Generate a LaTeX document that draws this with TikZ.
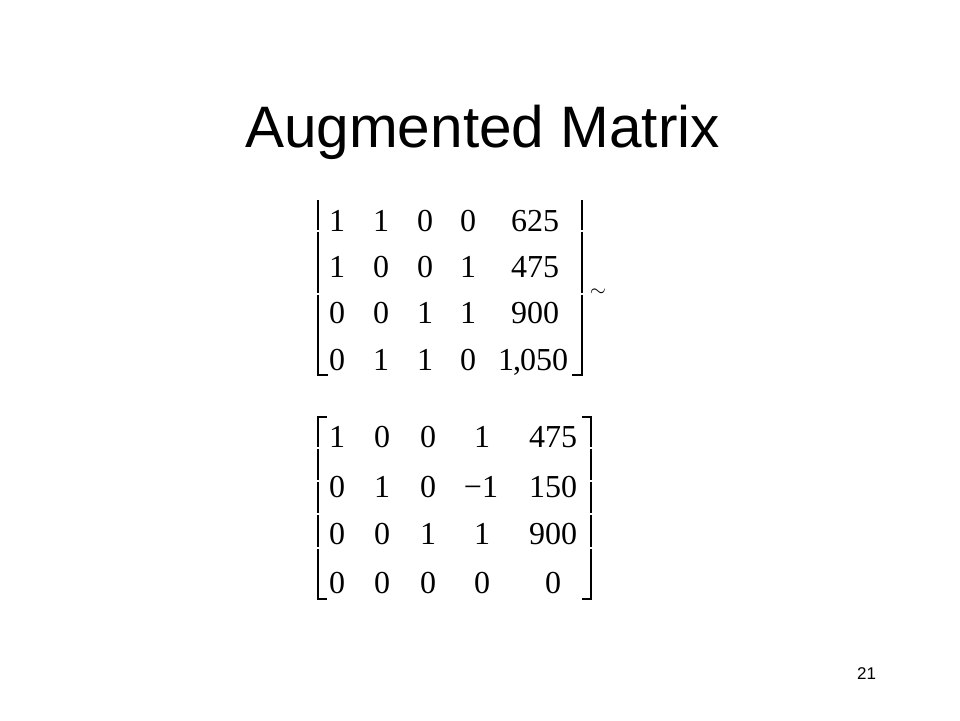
\documentclass[tikz,border=0pt]{standalone}
\usepackage{fontspec}
\setmainfont{Liberation Serif}
\newfontfamily\arialf{Liberation Sans}
\begin{document}
\begin{tikzpicture}[x=1pt,y=-1pt,
  title/.style={font=\arialf\fontsize{58.5}{60}\selectfont, anchor=base, inner sep=0pt},
  pagenum/.style={font=\arialf\fontsize{17}{18}\selectfont, anchor=base, inner sep=0pt},
  entry/.style={font=\fontsize{32}{32}\selectfont, anchor=base, inner sep=0pt},
  brk/.style={line width=1.4pt, line cap=butt}]
\useasboundingbox[fill=white] (0,0) rectangle (960,720);
\node[title] (title) at (482.5,147) {Augmented Matrix};
\node[pagenum] (page) at (866.5,679) {21};

% first matrix
\node[entry] (a11) at (337,231) {1};
\node[entry] (a12) at (381,231) {1};
\node[entry] (a13) at (425,231) {0};
\node[entry] (a14) at (468,231) {0};
\node[entry] (a15) at (535,231) {625};
\node[entry] (a21) at (337,277) {1};
\node[entry] (a22) at (381,277) {0};
\node[entry] (a23) at (425,277) {0};
\node[entry] (a24) at (468,277) {1};
\node[entry] (a25) at (535,277) {475};
\node[entry] (a31) at (337,323) {0};
\node[entry] (a32) at (381,323) {0};
\node[entry] (a33) at (425,323) {1};
\node[entry] (a34) at (468,323) {1};
\node[entry] (a35) at (535,323) {900};
\node[entry] (a41) at (337,370) {0};
\node[entry] (a42) at (381,370) {1};
\node[entry] (a43) at (425,370) {1};
\node[entry] (a44) at (468,370) {0};
\node[entry] (a45) at (533,370) {1\kern-1pt,\kern-1pt050};
\draw[brk] (318,200) -- (318,230);
\draw[brk] (318,231.5) -- (318,293);
\draw[brk] (318,294.5) -- (318,375) -- (328,375);
\draw[brk] (582,200) -- (582,230);
\draw[brk] (582,231.5) -- (582,293);
\draw[brk] (582,294.5) -- (582,375) -- (572,375);
\node[inner sep=0pt, font=\fontsize{22}{22}\selectfont] (tilde) at (598,293) {$\sim$};

% second matrix
\node[entry] (b11) at (337,447) {1};
\node[entry] (b12) at (382,447) {0};
\node[entry] (b13) at (428,447) {0};
\node[entry] (b14) at (482,447) {1};
\node[entry] (b15) at (553,447) {475};
\node[entry] (b21) at (337,497) {0};
\node[entry] (b22) at (382,497) {1};
\node[entry] (b23) at (428,497) {0};
\node[entry] (b24) at (481,497) {−1};
\node[entry] (b25) at (553,497) {150};
\node[entry] (b31) at (337,544) {0};
\node[entry] (b32) at (382,544) {0};
\node[entry] (b33) at (428,544) {1};
\node[entry] (b34) at (482,544) {1};
\node[entry] (b35) at (553,544) {900};
\node[entry] (b41) at (337,593) {0};
\node[entry] (b42) at (382,593) {0};
\node[entry] (b43) at (428,593) {0};
\node[entry] (b44) at (482,593) {0};
\node[entry] (b45) at (553,593) {0};
\draw[brk] (327,417) -- (318,417) -- (318,447);
\draw[brk] (318,448.5) -- (318,480);
\draw[brk] (318,481.5) -- (318,513);
\draw[brk] (318,514.5) -- (318,547);
\draw[brk] (318,548.5) -- (318,599) -- (327,599);
\draw[brk] (582,417) -- (591,417) -- (591,447);
\draw[brk] (591,448.5) -- (591,480);
\draw[brk] (591,481.5) -- (591,513);
\draw[brk] (591,514.5) -- (591,547);
\draw[brk] (591,548.5) -- (591,599) -- (582,599);
\end{tikzpicture}
\end{document}
